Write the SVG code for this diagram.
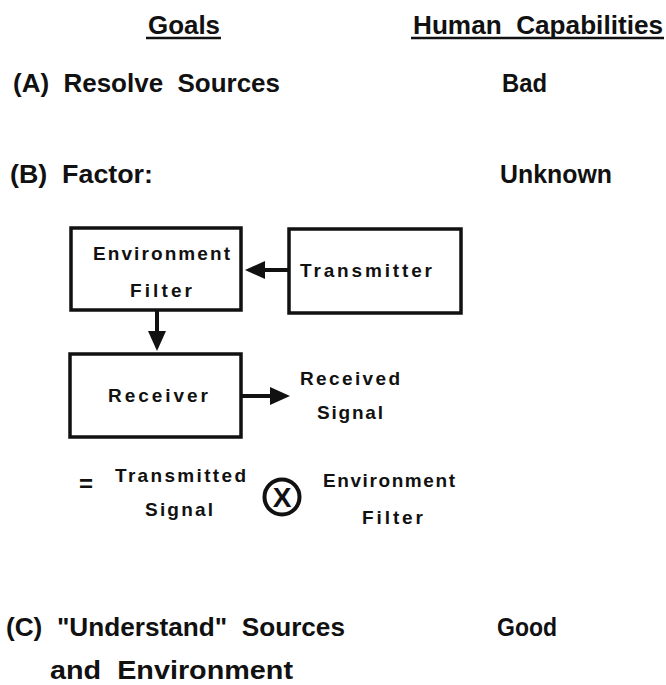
<svg xmlns="http://www.w3.org/2000/svg" width="666" height="685" viewBox="0 0 666 685">
  <style>
    .t { font-family: "Liberation Sans", Arial, sans-serif; font-weight: bold; font-size: 26px; fill: #111; white-space: pre; }
    .b { font-family: "Liberation Sans", Arial, sans-serif; font-weight: bold; font-size: 19px; fill: #111; }
    .box { fill: #fff; stroke: #111; stroke-width: 3.5; }
    .rule { stroke: #111; stroke-width: 2.5; }
    .wire { stroke: #111; stroke-width: 4; fill: none; marker-end: url(#head); }
  </style>
  <defs>
    <marker id="head" markerUnits="userSpaceOnUse" markerWidth="21" markerHeight="18" refX="0" refY="9" orient="auto">
      <path d="M0,0 L20,9 L0,18 z" fill="#111"/>
    </marker>
  </defs>
  <rect width="666" height="685" fill="#fff"/>

  <!-- column headings -->
  <g id="heading-goals">
    <text class="t" x="148" y="34" textLength="72" lengthAdjust="spacingAndGlyphs">Goals</text>
    <line class="rule" x1="146" y1="38" x2="221" y2="38"/>
  </g>
  <g id="heading-capabilities">
    <text class="t" x="413" y="34" textLength="250" lengthAdjust="spacingAndGlyphs">Human  Capabilities</text>
    <line class="rule" x1="411" y1="38" x2="664" y2="38"/>
  </g>

  <!-- goal rows -->
  <g id="row-a">
    <text class="t" x="13" y="92" textLength="267" lengthAdjust="spacingAndGlyphs">(A)  Resolve  Sources</text>
    <text class="t" x="502" y="92" textLength="45" lengthAdjust="spacingAndGlyphs">Bad</text>
  </g>
  <g id="row-b">
    <text class="t" x="10" y="183" textLength="143" lengthAdjust="spacingAndGlyphs">(B)  Factor:</text>
    <text class="t" x="500" y="183" textLength="112" lengthAdjust="spacingAndGlyphs">Unknown</text>
  </g>
  <g id="row-c">
    <text class="t" x="6" y="636" textLength="339" lengthAdjust="spacingAndGlyphs">(C)  "Understand"  Sources</text>
    <text class="t" x="497" y="636" textLength="60" lengthAdjust="spacingAndGlyphs">Good</text>
    <text class="t" x="50" y="679" textLength="243" lengthAdjust="spacingAndGlyphs">and  Environment</text>
  </g>

  <!-- signal model blocks -->
  <g id="env-filter">
    <rect class="box" x="71" y="228" width="170" height="82"/>
    <text class="b" x="93" y="260" textLength="137" lengthAdjust="spacing">Environment</text>
    <text class="b" x="130" y="297" textLength="62" lengthAdjust="spacing">Filter</text>
  </g>
  <g id="transmitter">
    <rect class="box" x="289" y="229" width="172" height="84"/>
    <text class="b" x="300" y="277" textLength="132" lengthAdjust="spacing">Transmitter</text>
  </g>
  <g id="receiver">
    <rect class="box" x="70" y="354" width="171" height="83"/>
    <text class="b" x="108" y="402" textLength="100" lengthAdjust="spacing">Receiver</text>
  </g>
  <g id="received-signal">
    <text class="b" x="300" y="385" textLength="100" lengthAdjust="spacing">Received</text>
    <text class="b" x="317" y="419" textLength="66" lengthAdjust="spacing">Signal</text>
  </g>

  <!-- convolution equation -->
  <g id="equation">
    <text class="t" x="79" y="492" style="font-size:24px">=</text>
    <text class="b" x="115" y="482" textLength="131" lengthAdjust="spacing">Transmitted</text>
    <text class="b" x="145" y="516" textLength="68" lengthAdjust="spacing">Signal</text>
    <circle cx="282" cy="497" r="17.5" fill="none" stroke="#111" stroke-width="4"/>
    <text class="t" x="282" y="507" text-anchor="middle" style="font-size:28px">X</text>
    <text class="b" x="323" y="487" textLength="132" lengthAdjust="spacing">Environment</text>
    <text class="b" x="362" y="524" textLength="61" lengthAdjust="spacing">Filter</text>
  </g>

  <!-- connectors -->
  <g id="connectors">
    <line class="wire" x1="289" y1="270" x2="265" y2="270"/>
    <line class="wire" x1="157" y1="310" x2="157" y2="331"/>
    <line class="wire" x1="241" y1="396" x2="270" y2="396"/>
  </g>
</svg>
